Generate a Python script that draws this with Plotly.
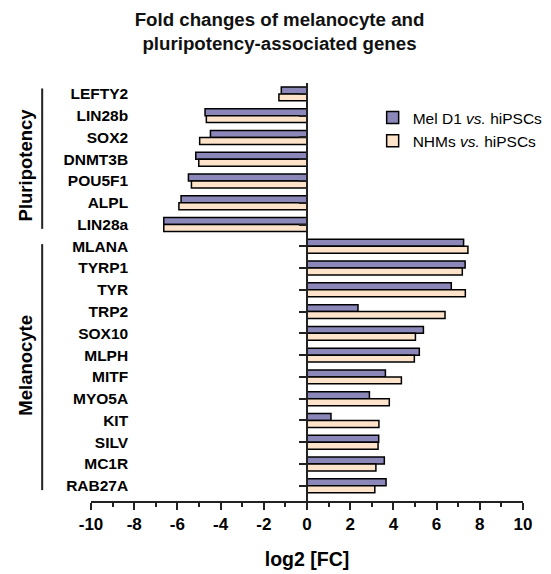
import plotly.graph_objects as go

genes = ["LEFTY2", "LIN28b", "SOX2", "DNMT3B", "POU5F1", "ALPL", "LIN28a",
         "MLANA", "TYRP1", "TYR", "TRP2", "SOX10", "MLPH", "MITF", "MYO5A",
         "KIT", "SILV", "MC1R", "RAB27A"]
mel_d1 = [-1.19, -4.72, -4.47, -5.15, -5.49, -5.83, -6.63,
          7.25, 7.32, 6.68, 2.36, 5.39, 5.20, 3.63, 2.89,
          1.11, 3.32, 3.58, 3.66]
nhms = [-1.30, -4.66, -4.97, -5.01, -5.35, -5.93, -6.63,
        7.45, 7.19, 7.33, 6.39, 5.02, 4.97, 4.37, 3.81,
        3.33, 3.29, 3.19, 3.14]
series_names = ["Mel D1 <i>vs.</i> hiPSCs", "NHMs <i>vs.</i> hiPSCs"]
groups = ["Pluripotency", "Melanocyte"]
x_ticks = list(range(-10, 11, 2))

FONT = "Liberation Sans, Arial, sans-serif"
PURPLE = "#8b87b9"
PEACH = "#fde3c9"

fig = go.Figure()
fig.add_trace(go.Bar(y=genes, x=mel_d1, orientation="h", name=series_names[0],
                     marker=dict(color=PURPLE, line=dict(color="black", width=1.5))))
fig.add_trace(go.Bar(y=genes, x=nhms, orientation="h", name=series_names[1],
                     marker=dict(color=PEACH, line=dict(color="black", width=1.5))))

# the page body adds an 8px offset, so the figure is 8px smaller than the window
fig.update_layout(
    width=543, height=566,
    margin=dict(l=83, r=28, t=75, b=73, autoexpand=False),
    paper_bgcolor="white", plot_bgcolor="white",
    font=dict(family=FONT, color="black"),
    barmode="group", bargap=0.36, bargroupgap=0,
    title=dict(text="<b>Fold changes of melanocyte and<br>pluripotency-associated genes</b>",
               x=0.5, xref="container", xanchor="center",
               y=0.969, yref="container", yanchor="top",
               font=dict(size=18.7, family=FONT, color="#111")),
    legend=dict(x=0.652, y=0.957, xanchor="left", yanchor="top",
                font=dict(size=15.5, family=FONT), bgcolor="rgba(0,0,0,0)",
                tracegroupgap=4),
    xaxis=dict(range=[-10, 10], tickmode="array", tickvals=x_ticks,
               ticktext=[f"<b>{v}</b>" for v in x_ticks],
               tickfont=dict(size=17, family=FONT),
               ticks="outside", ticklen=7, tickwidth=1.5, tickcolor="#222",
               minor=dict(dtick=1, ticks="outside", ticklen=4, tickwidth=1.5, tickcolor="#222"),
               showline=True, linecolor="#222", linewidth=1.5,
               showgrid=False, zeroline=False, automargin=False,
               title=dict(text="<b>log2 [FC]</b>", font=dict(size=19.5, family=FONT), standoff=19)),
    yaxis=dict(categoryorder="array", categoryarray=genes, range=[18.7, -0.5],
               anchor="free", position=0.5, automargin=False,
               showline=True, linecolor="#222", linewidth=1.5,
               ticks="outside", ticklen=7, tickwidth=1.5, tickcolor="#222",
               showgrid=False, zeroline=False,
               ticklabelstandoff=168,
               tickfont=dict(size=15.5, family=FONT),
               tickmode="array", tickvals=genes,
               ticktext=[f"<b>{g}</b>" for g in genes]),
)

# group brackets and labels
brackets = [(-0.25, 6.2, 3.25), (6.9, 18.2, 12.45)]
for (y0, y1, yc), name in zip(brackets, groups):
    fig.add_shape(type="line", xref="paper", yref="y", x0=-0.113, x1=-0.113, y0=y0, y1=y1,
                  line=dict(color="#222", width=2))
    fig.add_annotation(text=f"<b>{name}</b>", xref="paper", yref="y", x=-0.151, y=yc,
                       xanchor="center", yanchor="middle",
                       textangle=-90, showarrow=False, font=dict(size=18.5, family=FONT))

fig.write_html("out.html")
